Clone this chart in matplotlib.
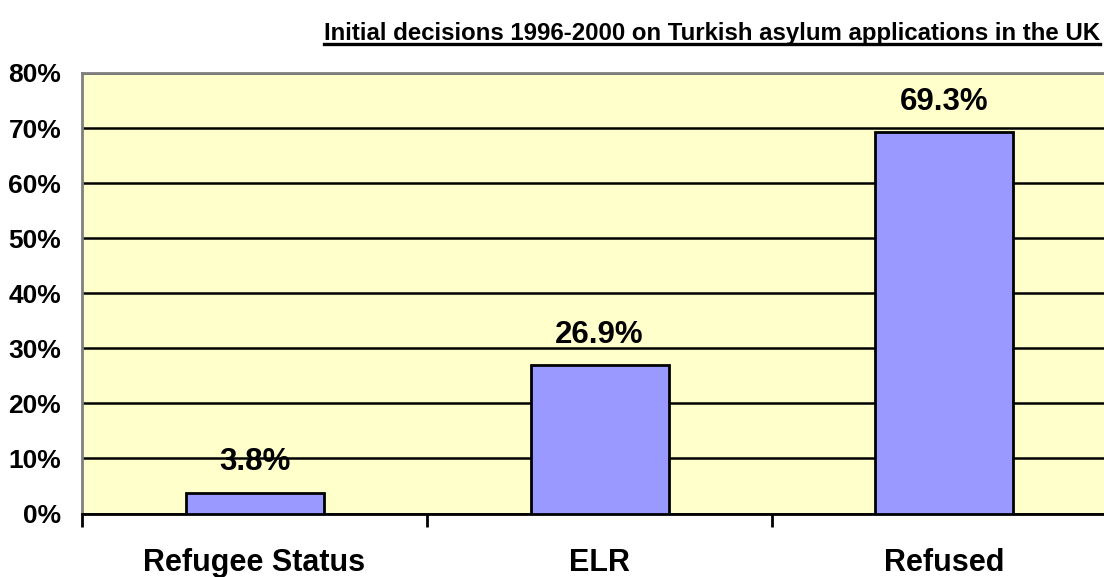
import matplotlib
matplotlib.use("Agg")
import matplotlib.pyplot as plt
from matplotlib.lines import Line2D
from matplotlib.ticker import FixedLocator, PercentFormatter

plt.rcParams['font.family'] = ['Liberation Sans', 'DejaVu Sans']
plt.rcParams['font.weight'] = 'bold'

# Data
categories = ["Refugee Status", "ELR", "Refused"]
shares = [3.8, 26.9, 69.3]
value_labels = ["3.8%", "26.9%", "69.3%"]
y_ticks = [0, 10, 20, 30, 40, 50, 60, 70, 80]
title = "Initial decisions 1996-2000 on Turkish asylum applications in the UK"

W, H = 1104, 577
fig = plt.figure(figsize=(W / 100, H / 100), dpi=100)
fig.patch.set_facecolor("white")

# Plot area (extends slightly past the right edge of the canvas)
left, right, top, bottom = 82, 1117, 73, 513.5
ax = fig.add_axes([left / W, 1 - bottom / H, (right - left) / W, (bottom - top) / H])
ax.set_facecolor("#FFFFCC")

x_centers = [i + 0.5 for i in range(len(categories))]
ax.bar(x_centers, shares, width=0.4, color="#9999FF", edgecolor="black",
       linewidth=2, zorder=3)

ax.set_xlim(0, len(categories))
ax.set_ylim(0, 80)

# Horizontal gridlines
ax.yaxis.set_major_locator(FixedLocator(y_ticks))
ax.yaxis.set_major_formatter(PercentFormatter(decimals=0))
ax.grid(axis="y", color="black", linewidth=1.8, zorder=1)
ax.set_axisbelow(True)
ax.tick_params(axis="y", length=0, pad=15, labelsize=19)

# Category boundaries get tick marks, centers carry the labels
ax.xaxis.set_major_locator(FixedLocator(range(len(categories) + 1)))
ax.xaxis.set_major_formatter(plt.NullFormatter())
ax.xaxis.set_minor_locator(FixedLocator(x_centers))
ax.set_xticks(x_centers, minor=True)
ax.set_xticklabels(categories, minor=True)
ax.tick_params(axis="x", which="major", length=9, width=2, color="black", direction="out")
ax.tick_params(axis="x", which="minor", length=0, pad=25, labelsize=22)

for side in ("left", "top"):
    ax.spines[side].set_color("#808080")
    ax.spines[side].set_linewidth(2)
ax.spines["right"].set_visible(False)
ax.spines["bottom"].set_color("black")
ax.spines["bottom"].set_linewidth(2)

for xc, v, lab in zip(x_centers, shares, value_labels):
    ax.annotate(lab, xy=(xc, v), xytext=(0, 16), textcoords="offset points",
                ha="center", va="baseline", fontsize=22.5, fontweight="bold",
                zorder=4)

# Underlined title, right-aligned
t = fig.text(1100 / W, 1 - 40 / H, title, ha="right", va="baseline",
             fontsize=17.3, fontweight="bold")
fig.canvas.draw()
bb = t.get_window_extent(renderer=fig.canvas.get_renderer())
uy = 1 - 44 / H
fig.add_artist(Line2D([bb.x0 / W, bb.x1 / W], [uy, uy], transform=fig.transFigure,
                      color="black", linewidth=2.4))

fig.savefig("out.png", dpi=100)
